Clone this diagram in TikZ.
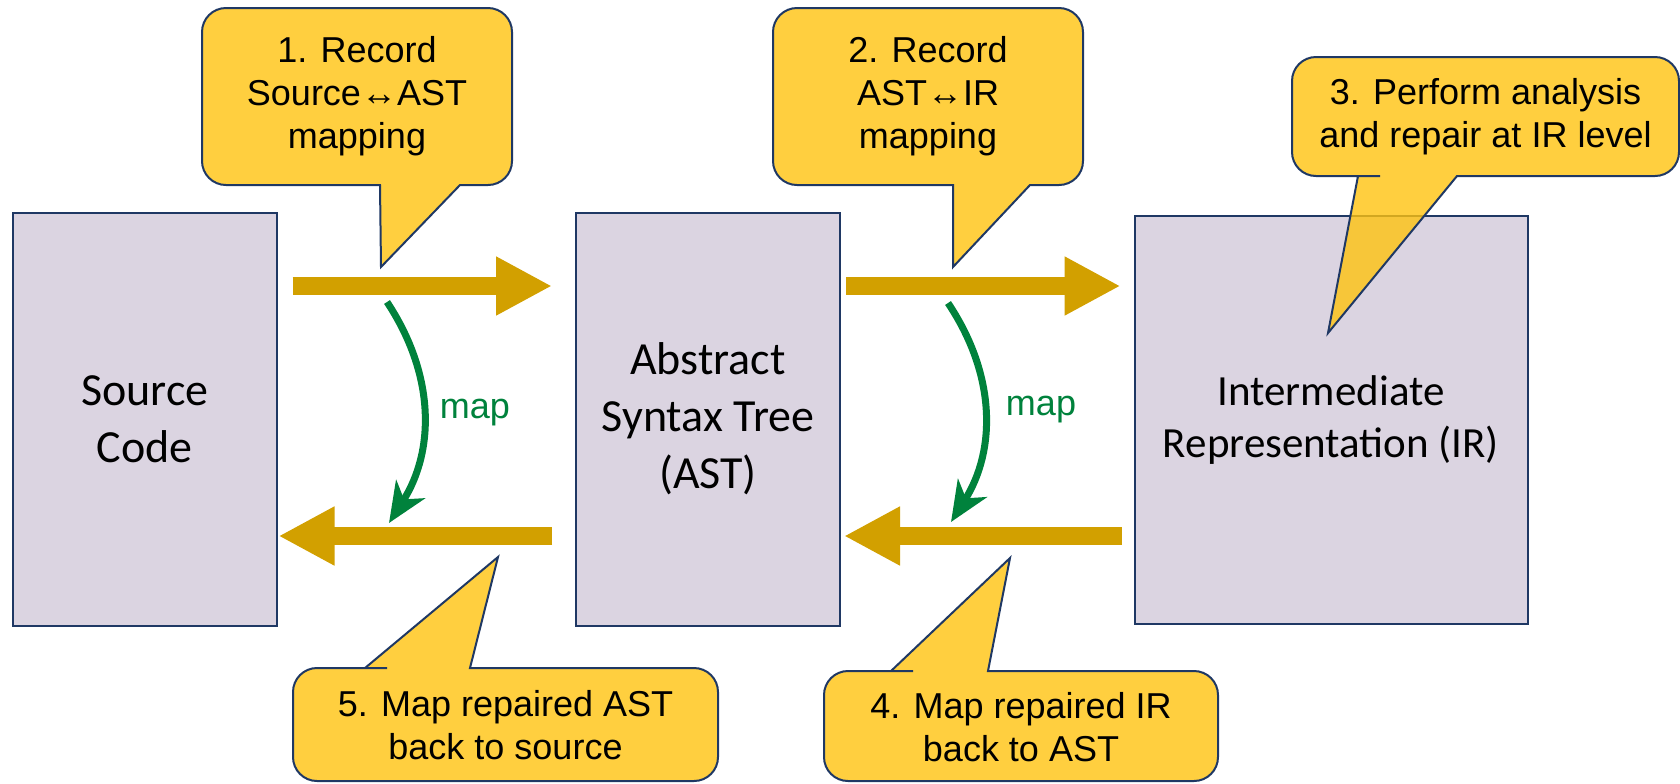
\documentclass[tikz,border=0pt]{standalone}
\usepackage{fontspec}
\setmainfont{Liberation Sans}
\newfontfamily\boxfont{Carlito}
\usetikzlibrary{arrows.meta}

\definecolor{boxfill}{RGB}{219,212,225}
\definecolor{boxline}{RGB}{31,56,100}
\definecolor{bubble}{RGB}{255,195,15}
\definecolor{flow}{RGB}{210,160,0}
\definecolor{mapgreen}{RGB}{0,130,60}

\tikzset{
  stage/.style={draw=boxline, line width=1pt, fill=boxfill, outer sep=0pt, align=center,
    font=\boxfont\fontsize{23}{28.5}\selectfont},
  bubblebox/.style={draw=boxline, line width=1pt, fill=bubble, fill opacity=0.8},
  bubbletext/.style={align=center, font=\fontsize{18}{21.5}\selectfont},
  flowarrow/.style={flow, line width=9pt, -{Triangle[length=28pt,width=27.5pt]}},
  maparrow/.style={mapgreen, line width=3.5pt, -{Stealth[length=20pt,width=17pt,inset=6pt]}},
  maplabel/.style={text=mapgreen, font=\fontsize{18}{21.5}\selectfont}
}

\begin{document}
\begin{tikzpicture}[x=0.5pt, y=-0.5pt]
  \useasboundingbox (0,0) rectangle (1680,783);

  % the three program forms
  \node[stage, minimum width=131.75pt, minimum height=206.5pt] (src) at (144.75,419.5) {Source\\Code};
  \node[stage, minimum width=132pt, minimum height=206.5pt] (ast) at (708,419) {Abstract\\Syntax Tree\\(AST)};
  \node[stage, minimum width=196.5pt, minimum height=204pt,
    font=\boxfont\fontsize{21.5}{26}\selectfont] (ir) at (1331,420) {Intermediate\\Representation (IR)};

  % forward and backward passes
  \draw[flowarrow, shorten <=8pt, shorten >=12pt] (src.east |- 0,286) -- (ast.west |- 0,286);
  \draw[flowarrow, shorten <=12pt, shorten >=1pt] (ast.west |- 0,536) -- (src.east |- 0,536);
  \draw[flowarrow, shorten <=3pt, shorten >=7pt] (ast.east |- 0,286) -- (ir.west |- 0,286);
  \draw[flowarrow, shorten <=6.5pt, shorten >=2pt] (ir.west |- 0,536) -- (ast.east |- 0,536);

  % mapping arrows
  \coordinate (m1a) at (387,302);
  \coordinate (m1b) at (389,523);
  \coordinate (m2a) at (948,303);
  \coordinate (m2b) at (951,522);
  \draw[maparrow] (m1a) to[bend left=33] (m1b);
  \draw[maparrow] (m2a) to[bend left=33] (m2b);
  \node[maplabel] (map1) at (475,413) {map};
  \node[maplabel] (map2) at (1041,410) {map};

  % callouts
  \draw[bubblebox] (357,8) [rounded corners=12pt] -- (202,8) -- (202,185) -- (330,185)
    [sharp corners] -- (380,185) -- (381,267) -- (460,185) -- (461,185)
    [rounded corners=12pt] -- (512,185) -- (512,8) -- cycle;
  \node[bubbletext] (rec1) at (357,96.5) {1. Record\\Source↔AST\\mapping};

  \draw[bubblebox] (928,8) [rounded corners=12pt] -- (773,8) -- (773,185) -- (900,185)
    [sharp corners] -- (953,185) -- (953,267) -- (1030,185) -- (1031,185)
    [rounded corners=12pt] -- (1083,185) -- (1083,8) -- cycle;
  \node[bubbletext] (rec2) at (928,96.5) {2. Record\\AST↔IR\\mapping};

  \draw[bubblebox] (1485,57) [rounded corners=12pt] -- (1292,57) -- (1292,176) -- (1356,176)
    [sharp corners] -- (1358,176) -- (1328,333) -- (1457,176) -- (1500,176)
    [rounded corners=12pt] -- (1679,176) -- (1679,57) -- cycle;
  \node[bubbletext] (repair) at (1485.5,116.5) {3. Perform analysis\\and repair at IR level};

  \draw[bubblebox] (1021,781) [rounded corners=12pt] -- (824,781) -- (824,671) -- (889,671)
    [sharp corners] -- (891,671) -- (1010,558) -- (988,671) -- (1040,671)
    [rounded corners=12pt] -- (1218,671) -- (1218,781) -- cycle;
  \node[bubbletext] (back4) at (1021,727) {4. Map repaired IR\\back to AST};

  \draw[bubblebox] (505,781) [rounded corners=12pt] -- (293,781) -- (293,668) -- (363,668)
    [sharp corners] -- (365,668) -- (498,557) -- (470,668) -- (520,668)
    [rounded corners=12pt] -- (718,668) -- (718,781) -- cycle;
  \node[bubbletext] (back5) at (505.5,725.5) {5. Map repaired AST\\back to source};
\end{tikzpicture}
\end{document}
